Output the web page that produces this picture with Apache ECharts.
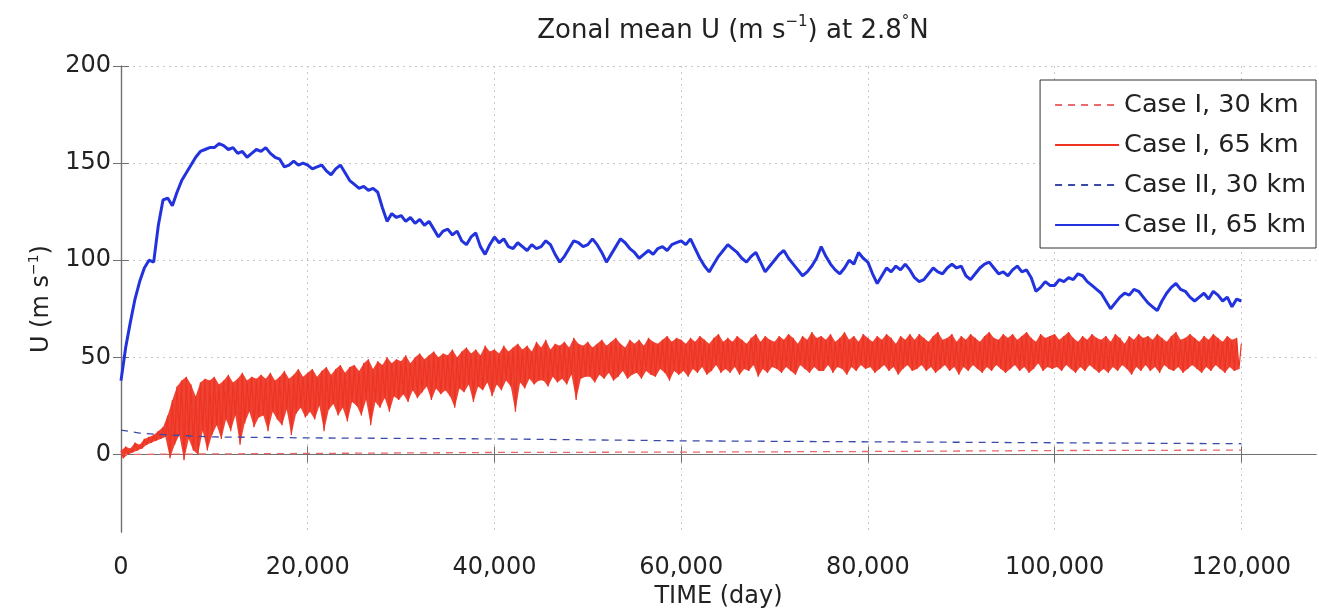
<!DOCTYPE html>
<html><head><meta charset="utf-8">
<script src="https://cdn.jsdelivr.net/npm/echarts@6/dist/echarts.min.js"></script>
<style>html,body{margin:0;padding:0;background:#fff}#c{width:1319px;height:614px}</style>
</head><body><div id="c"></div>
<script>
// ---- tick labels ----
const xTicks = [0, 20000, 40000, 60000, 80000, 100000, 120000];
const yTicks = [0, 50, 100, 150, 200];
const seriesNames = ['Case I, 30 km', 'Case I, 65 km', 'Case II, 30 km', 'Case II, 65 km'];

// ---- Case I, 30 km (dashed) ----
const c1s30Times = [0, 20000, 40000, 60000, 80000, 100000, 120000];
const c1s30Values = [0, 0.5, 1, 1.2, 1.5, 2, 2.2];

// ---- Case II, 30 km (dashed) ----
const c2s30Times = [0, 2000, 5000, 10000, 20000, 40000, 60000, 80000, 100000, 120000];
const c2s30Values = [12.5, 11, 10, 9, 8.5, 8, 7, 6.5, 6, 5.5];

// ---- Case I, 65 km: noisy band, read as upper / lower envelope every 500 days ----
const c1s65Step = 500;
const c1s65Upper = [
  2,4,3,6,5,8,9,10,12,14,
  20,28,35,38,40,36,30,37,39,38,
  40,36,38,41,37,39,42,38,40,39,
  41,39,42,38,40,43,39,41,44,40,
  42,44,40,43,45,41,44,46,42,45,
  46,43,47,49,44,48,46,50,47,49,
  48,51,47,50,52,49,51,53,50,52,
  51,54,50,53,55,52,54,51,56,53,
  54,52,56,53,55,57,54,56,53,58,
  55,59,54,57,56,58,55,60,57,56,
  58,55,57,59,56,58,60,57,55,59,
  57,59,56,60,58,57,59,61,58,60,
  59,57,60,58,61,59,57,60,62,58,
  60,58,61,59,57,60,62,58,61,59,
  58,61,59,62,60,57,61,59,63,60,
  61,59,62,58,60,63,59,61,58,62,
  60,58,61,59,62,60,57,61,59,62,
  59,62,60,58,61,63,59,60,62,58,
  61,59,62,60,58,61,63,60,59,62,
  60,62,59,61,63,60,58,62,60,61,
  62,59,61,63,60,58,61,59,62,60,
  59,61,58,62,60,57,61,59,62,60,
  61,59,62,60,58,61,63,59,60,62,
  60,58,61,59,62,60,58,61,59,60,
  57
];
const c1s65Lower = [
  -2,0,1,2,3,5,6,7,8,9,
  -2,5,10,-3,8,2,0,12,2,10,
  15,8,18,12,20,5,16,22,14,19,
  20,12,22,18,15,23,10,21,24,19,
  22,18,25,12,23,26,20,24,17,27,
  25,20,28,15,27,24,29,22,30,28,
  31,27,33,29,32,35,28,34,31,33,
  30,24,34,32,36,27,35,33,37,30,
  36,33,38,35,22,37,34,39,36,38,
  38,35,40,37,39,36,41,28,39,40,
  40,37,41,39,42,38,40,43,39,41,
  42,39,43,41,40,44,42,38,43,41,
  43,40,44,42,45,41,43,46,42,44,
  42,45,41,44,43,46,40,44,42,45,
  44,42,45,43,41,46,44,42,45,43,
  43,46,42,45,44,41,45,43,46,44,
  45,42,44,46,43,45,41,44,46,43,
  44,46,43,45,42,44,46,43,45,41,
  45,43,46,44,42,45,43,46,44,42,
  44,46,43,45,42,44,47,43,45,44,
  45,43,46,44,42,45,43,46,44,42,
  44,42,45,43,46,44,41,45,43,46,
  43,45,42,46,44,43,45,42,44,46,
  44,42,45,43,46,44,42,45,43,44,
  47
];

// ---- Case II, 65 km: every 500 days from 0 to 120,000 ----
const c2s65Step = 500;
const c2s65Values = [
  38,55,68,80,89,96,100,99,118,131,132,128,135,141,145,149,153,156,157,158,
  158,160,159,157,158,155,156,153,155,157,156,158,155,153,152,148,149,151,149,150,
  149,147,148,149,146,144,147,149,145,141,139,137,138,136,137,135,127,120,124,122,
  123,120,122,119,121,118,120,116,112,115,116,113,115,110,108,112,114,107,103,108,
  112,109,111,107,106,109,107,105,108,106,107,110,108,103,99,102,106,110,109,107,
  108,111,108,104,99,103,107,111,109,106,104,101,103,105,103,106,107,105,108,109,
  110,108,111,106,101,97,94,98,102,105,108,106,104,101,99,102,104,99,94,97,
  100,103,105,101,98,95,92,94,97,101,107,102,98,95,93,96,100,98,104,101,
  99,93,88,92,96,94,97,95,98,95,91,89,90,93,96,94,93,96,98,96,
  97,92,90,93,96,98,99,96,93,94,92,95,97,94,95,91,84,86,89,87,
  87,90,89,91,90,93,92,89,87,85,83,79,75,78,81,83,82,85,84,81,
  78,76,74,79,83,86,88,85,84,81,79,81,83,80,84,82,79,81,76,80,
  79
];

function pairs(ts, vs) { return ts.map((t, i) => [t, vs[i]]); }
function stepped(vs, step) { return vs.map((v, i) => [i * step, v]); }
function zigzag(up, lo, step) {
  const out = [];
  for (let i = 0; i < up.length; i++) {
    out.push([i * step, up[i]]);
    if (i < up.length - 1) out.push([i * step + step / 2, lo[i]]);
  }
  return out;
}
function bandCells(up, lo, step) {
  const out = [];
  for (let i = 0; i < up.length - 2; i++) {
    out.push([i * step, up[i], lo[i], (i + 1) * step, up[i + 1], lo[i + 1]]);
  }
  return out;
}

const FONT = 'DejaVu Sans';
const RED = '#ee3322';
const chart = echarts.init(document.getElementById('c'), null, {renderer: 'canvas'});
const gridLine = {show: true, lineStyle: {color: '#c8c8c8', type: [2, 4], width: 1}};
const axLine = {show: true, lineStyle: {color: '#707070', width: 1.2}};
const titleRich = {
  a: {fontFamily: FONT, fontSize: 26, fontWeight: 'normal', color: '#222', lineHeight: 32},
  s: {fontFamily: FONT, fontSize: 15, fontWeight: 'normal', color: '#222', lineHeight: 32, verticalAlign: 'top'}
};
const supRich = {
  a: {fontFamily: FONT, fontSize: 24, fontWeight: 'normal', color: '#222', lineHeight: 30},
  s: {fontFamily: FONT, fontSize: 14, fontWeight: 'normal', color: '#222', lineHeight: 30, verticalAlign: 'top'}
};
const halfStep = c1s65Step / 2;

chart.setOption({
  animation: false,
  backgroundColor: '#fff',
  title: {
    text: '{a|Zonal mean U (m s}{s|−1}{a|) at 2.8}{s|°}{a|N}',
    left: 728, top: 10, textAlign: 'center',
    textStyle: {fontWeight: 'normal', rich: titleRich}
  },
  grid: {left: 121, right: 3, top: 66, bottom: 72, containLabel: false},
  legend: {
    data: seriesNames,
    orient: 'vertical', right: 3, top: 80,
    itemWidth: 64, itemHeight: 14, itemGap: 14,
    padding: [12, 10, 10, 14],
    itemStyle: {opacity: 0},
    backgroundColor: '#fff', borderColor: '#333', borderWidth: 1,
    textStyle: {fontFamily: FONT, fontSize: 25.5, color: '#222'}
  },
  xAxis: [{
    type: 'value', min: 0, max: 128000,
    name: 'TIME (day)', nameLocation: 'middle', nameGap: 45,
    nameTextStyle: {fontFamily: FONT, fontSize: 24, color: '#222'},
    axisLine: axLine,
    axisTick: {show: true, inside: true, length: 8, lineStyle: {color: '#707070'}, customValues: xTicks},
    axisLabel: {customValues: xTicks, fontFamily: FONT, fontSize: 24, color: '#222', margin: 24,
      formatter: v => v.toLocaleString('en-US')},
    splitLine: gridLine
  }, {
    type: 'value', min: 0, max: 128000, position: 'top',
    axisLine: axLine,
    axisTick: {show: true, inside: true, length: 8, lineStyle: {color: '#707070'}, customValues: xTicks},
    axisLabel: {show: false}, splitLine: {show: false}
  }],
  yAxis: [{
    type: 'value', min: -40, max: 200,
    name: '{a|U (m s}{s|−1}{a|)}', nameLocation: 'middle', nameGap: 64,
    nameTextStyle: {rich: supRich},
    axisLine: axLine,
    axisTick: {show: true, inside: true, length: 8, lineStyle: {color: '#707070'}, customValues: yTicks},
    axisLabel: {customValues: yTicks, fontFamily: FONT, fontSize: 24, color: '#222', margin: 10},
    splitLine: gridLine
  }, {
    type: 'value', min: -40, max: 200, position: 'right',
    axisLine: axLine,
    axisTick: {show: true, inside: true, length: 8, lineStyle: {color: '#707070'}, customValues: yTicks},
    axisLabel: {show: false}, splitLine: {show: false}
  }],
  series: [
    {name: seriesNames[0], type: 'line', symbol: 'none', data: pairs(c1s30Times, c1s30Values),
      color: '#e86a6a', lineStyle: {width: 1.3, type: [7, 6], color: '#e86a6a'}},
    {name: 'band', type: 'custom', silent: true, clip: true,
      data: bandCells(c1s65Upper, c1s65Lower, c1s65Step),
      encode: {x: [0, 3], y: [1, 2, 4, 5]},
      renderItem: (params, api) => ({
        type: 'polygon',
        shape: {points: [
          api.coord([api.value(0), api.value(1)]),
          api.coord([api.value(3), api.value(4)]),
          api.coord([api.value(3) + halfStep, api.value(5)]),
          api.coord([api.value(0) + halfStep, api.value(2)])
        ]},
        style: {fill: RED, opacity: 0.92}
      })},
    {name: seriesNames[1], type: 'line', symbol: 'none', data: zigzag(c1s65Upper, c1s65Lower, c1s65Step),
      color: RED, lineStyle: {width: 1.2, color: RED}},
    {name: seriesNames[2], type: 'line', symbol: 'none', data: pairs(c2s30Times, c2s30Values),
      color: '#3a4aa8', lineStyle: {width: 1.3, type: [7, 6], color: '#3a4aa8'}},
    {name: seriesNames[3], type: 'line', symbol: 'none', data: stepped(c2s65Values, c2s65Step),
      color: '#2233dd', lineStyle: {width: 3, color: '#2233dd'}}
  ]
});
</script></body></html>
